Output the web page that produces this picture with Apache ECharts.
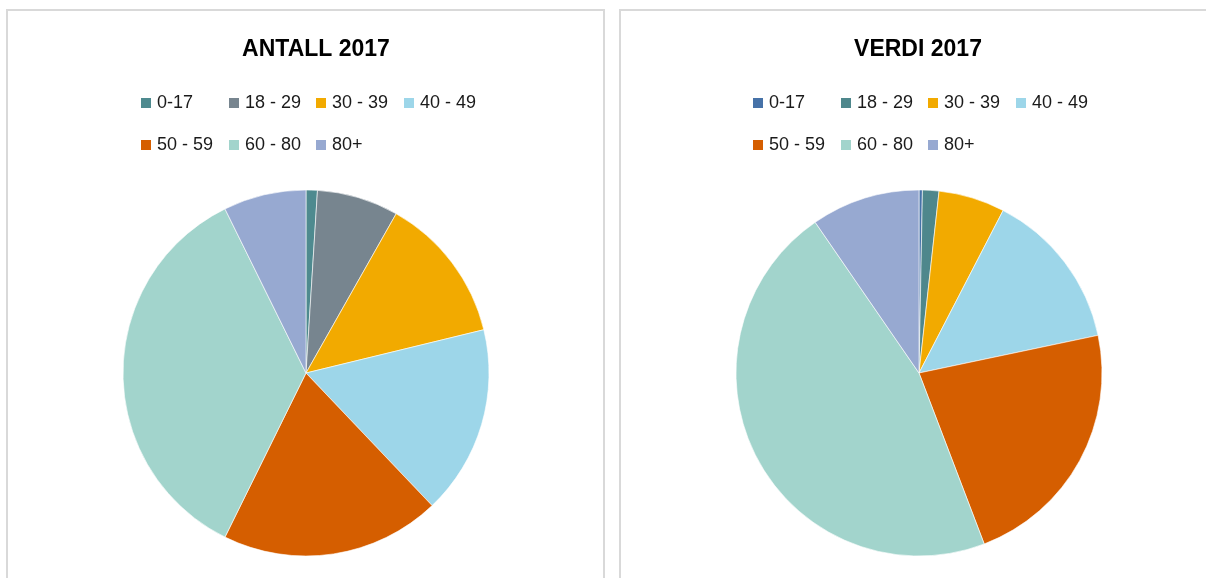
<!DOCTYPE html>
<html>
<head>
<meta charset="utf-8">
<script src="https://cdn.jsdelivr.net/npm/echarts@6/dist/echarts.min.js"></script>
<style>
html, body { margin: 0; padding: 0; background: #fff; overflow: hidden; }
.chart { position: absolute; top: 0; height: 578px; }
.panel { position: absolute; top: 9px; height: 600px; border: 2px solid #d9d9d9; box-sizing: border-box; pointer-events: none; }
</style>
</head>
<body>
<div class="chart" id="antall" style="left:0;width:612px"></div>
<div class="chart" id="verdi" style="left:612px;width:594px"></div>
<div class="panel" style="left:6px;width:599px"></div>
<div class="panel" style="left:619px;width:600px"></div>
<script>
// aldersgrupper
var categories = ['0-17', '18 - 29', '30 - 39', '40 - 49', '50 - 59', '60 - 80', '80+']
// andel i prosent, lest av figuren
var antallValues = [1.0, 7.2, 13.0, 16.7, 19.4, 35.4, 7.3]
var verdiValues = [0.3, 1.45, 5.85, 14.1, 22.5, 46.2, 9.6]
var antallColors = ['#4E8A8F', '#77858F', '#F2AA00', '#9DD6E9', '#D55E00', '#A2D4CC', '#97A9D1']
var verdiColors = ['#4672A8', '#4E878C', '#F2AA00', '#9DD6E9', '#D55E00', '#A2D4CC', '#97A9D1']

// legend laid out as a grid like in Excel: 4 columns, 2 rows
var legendCols = [139, 227, 314, 402]
var legendRows = [94, 136]

function buildOption(title, titleX, values, colors) {
  var legends = categories.map(function (c, i) {
    return {
      data: [c],
      left: legendCols[i % 4],
      top: legendRows[Math.floor(i / 4)],
      padding: 0,
      itemWidth: 12,
      itemHeight: 12,
      icon: 'rect',
      selectedMode: false,
      textStyle: {
        fontFamily: 'Liberation Sans',
        fontSize: 18,
        color: '#1a1a1a'
      }
    }
  })
  return {
    animation: false,
    color: colors,
    title: {
      text: title,
      left: titleX,
      textAlign: 'center',
      top: 33,
      textStyle: {
        fontFamily: 'Liberation Sans',
        fontSize: 23,
        fontWeight: 'bold',
        color: '#000'
      }
    },
    legend: legends,
    series: [
      {
        type: 'pie',
        center: [306, 373],
        radius: 183,
        startAngle: 90,
        clockwise: true,
        label: { show: false },
        labelLine: { show: false },
        emphasis: { disabled: true },
        itemStyle: { borderColor: '#fff', borderWidth: 0.6 },
        data: categories.map(function (c, i) {
          return { name: c, value: values[i] }
        })
      }
    ]
  }
}

var antallChart = echarts.init(document.getElementById('antall'))
antallChart.setOption(buildOption('ANTALL 2017', 311, antallValues, antallColors))

var verdiChart = echarts.init(document.getElementById('verdi'))
var verdiOption = buildOption('VERDI 2017', 301, verdiValues, verdiColors)
verdiOption.series[0].center = [307, 373]
verdiChart.setOption(verdiOption)
</script>
</body>
</html>
